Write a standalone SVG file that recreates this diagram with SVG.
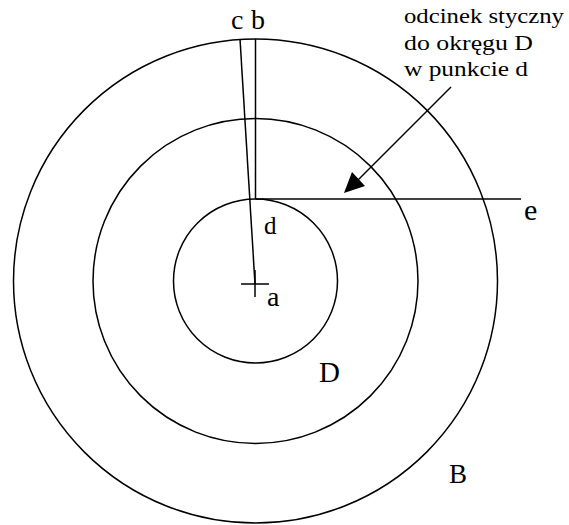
<svg xmlns="http://www.w3.org/2000/svg" width="569" height="525" viewBox="0 0 569 525">
<style>
.ln{fill:none;stroke:#000;stroke-width:1.5}
.lb{font-family:'Liberation Serif','Times New Roman',Times,serif;fill:#000}
</style>
<rect width="569" height="525" fill="#fff"/>
<g id="circle-B"><circle class="ln" cx="255.5" cy="281" r="242"/></g>
<g id="circle-mid"><circle class="ln" cx="255.5" cy="281" r="162.5"/></g>
<g id="circle-D"><circle class="ln" cx="255.5" cy="281" r="82"/></g>
<g id="center-a">
<line class="ln" x1="241" y1="284" x2="269" y2="284"/>
<line class="ln" x1="255" y1="270" x2="255" y2="297"/>
<text class="lb" x="267" y="306" font-size="28">a</text>
</g>
<g id="connectors">
<line class="ln" x1="255.5" y1="39" x2="255.5" y2="199"/>
<line class="ln" x1="240" y1="39" x2="255" y2="284"/>
<line class="ln" x1="255.5" y1="199" x2="521" y2="199"/>
<line class="ln" x1="451" y1="87" x2="358" y2="180"/>
<polygon points="344,193 352,172 365,186" fill="#000"/>
</g>
<g id="labels">
<text class="lb" x="231" y="29" font-size="28">c</text>
<text class="lb" x="251" y="29" font-size="28">b</text>
<text class="lb" x="264" y="234" font-size="25">d</text>
<text class="lb" x="524" y="220" font-size="30">e</text>
<text class="lb" x="319" y="382" font-size="29">D</text>
<text class="lb" x="449" y="483" font-size="27">B</text>
</g>
<g id="annotation">
<text class="lb" x="404" y="23" font-size="22" textLength="160" lengthAdjust="spacingAndGlyphs">odcinek styczny</text>
<text class="lb" x="404" y="50" font-size="22" textLength="129" lengthAdjust="spacingAndGlyphs">do okręgu D</text>
<text class="lb" x="404" y="76" font-size="22" textLength="124" lengthAdjust="spacingAndGlyphs">w punkcie d</text>
</g>
</svg>
